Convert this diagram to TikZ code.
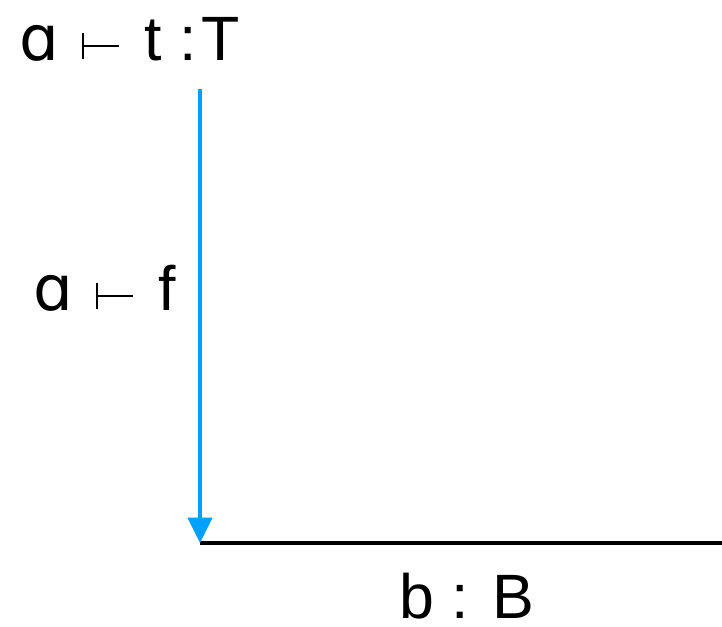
\documentclass[tikz,border=0pt]{standalone}
\usepackage{fontspec}
\setmainfont{Liberation Sans}
\newfontfamily\symfont{DejaVu Sans}
\usetikzlibrary{arrows.meta}
\definecolor{arrowblue}{RGB}{0,160,255}
\tikzset{
  lbl/.style={font=\fontsize{47}{56}\selectfont, inner sep=0pt, anchor=base west},
  morph/.style={draw=arrowblue, line width=3.4pt, -{Triangle[length=19pt,width=18pt]}},
  obj/.style={draw=black, line width=3.4pt}
}
\newcommand{\turnst}{\hspace{17pt}\rule[0.5pt]{2pt}{20pt}\hspace{-2pt}\rule[9.6pt]{28pt}{2pt}\hspace{19pt}}
\newcommand{\alp}{{\symfont ɑ}}
\begin{document}
\begin{tikzpicture}[x=0.75pt,y=-0.75pt]
\useasboundingbox (0,0) rectangle (722,626);
\node[lbl] (top) at (19,60) {\alp\turnst t :\hspace{4pt}T};
\node[lbl] (fl) at (33,310) {\alp\turnst f};
\node[lbl] (bl) at (399,618) {b : B};
\coordinate (s) at (200,89);
\coordinate (c) at (200,543);
\coordinate (e) at (722,543);
\draw[obj] (c) -- (e);
\draw[morph] (s) -- (c);
\end{tikzpicture}
\end{document}
